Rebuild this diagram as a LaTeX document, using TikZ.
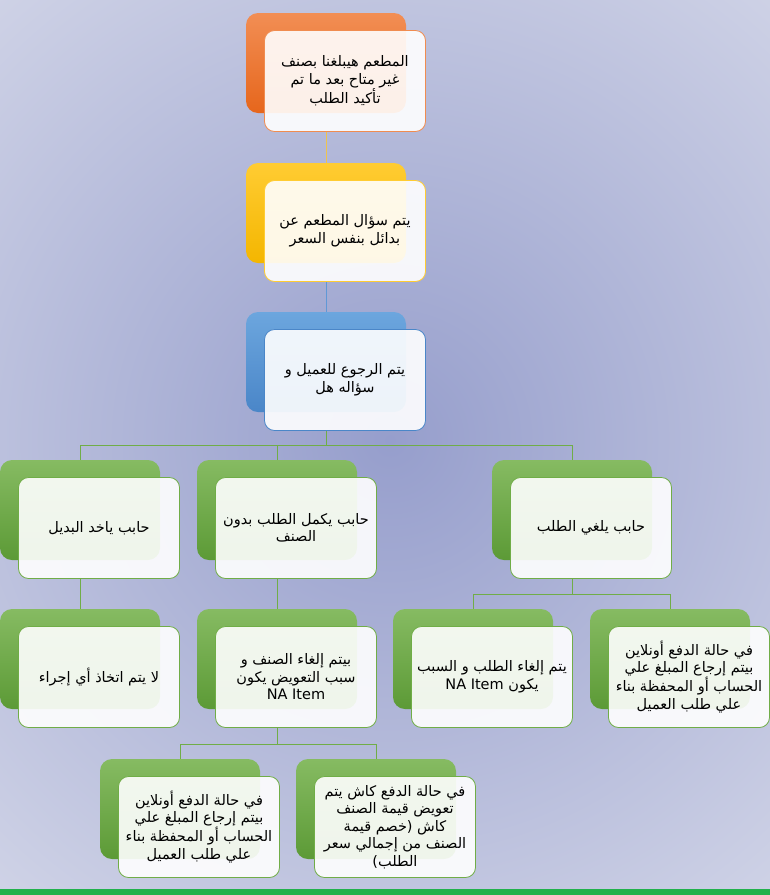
\documentclass[tikz,border=0pt]{standalone}
\usepackage{fontspec}
\usepackage{xcolor}
\newfontfamily\arabicfont[Script=Arabic]{DejaVu Sans}
\TeXXeTstate=1
\usetikzlibrary{positioning}

\definecolor{bgin}{RGB}{150,158,204}
\definecolor{bgout}{RGB}{228,230,240}
\definecolor{bandgreen}{RGB}{34,177,76}
\definecolor{orangetop}{RGB}{242,142,84}
\definecolor{orangebot}{RGB}{230,102,28}
\definecolor{orangeline}{RGB}{240,140,80}
\definecolor{goldtop}{RGB}{255,204,50}
\definecolor{goldbot}{RGB}{244,182,0}
\definecolor{goldline}{RGB}{238,196,80}
\definecolor{bluetop}{RGB}{108,166,222}
\definecolor{bluebot}{RGB}{74,134,200}
\definecolor{blueline}{RGB}{96,152,214}
\definecolor{greentop}{RGB}{134,187,98}
\definecolor{greenbot}{RGB}{92,154,54}
\definecolor{greenline}{RGB}{112,173,71}

\newcommand\rl[1]{\beginR #1\endR}

\pgfdeclarelayer{bg}
\pgfsetlayers{bg,main}

\begin{document}
\begin{tikzpicture}[x=1pt, y=-1pt,
    back/.style={rounded corners=12pt, minimum width=160pt,
        minimum height=100pt, inner sep=0pt},
    orangeback/.style={back, top color=orangetop, bottom color=orangebot},
    goldback/.style={back, top color=goldtop, bottom color=goldbot},
    blueback/.style={back, top color=bluetop, bottom color=bluebot},
    greenback/.style={back, top color=greentop, bottom color=greenbot},
    front/.style={draw, line width=0.8pt, rounded corners=10pt,
        fill=white, fill opacity=0.9, text opacity=1,
        minimum width=161pt, minimum height=101pt, inner sep=2pt,
        align=center, font=\arabicfont\fontsize{14.5}{17.5}\selectfont},
    link/.style={line width=0.8pt, draw=greenline},
]
    \useasboundingbox (0,0) rectangle (770,895);

    % Top chain
    \node[orangeback] (b1) at (326,63) {};
    \node[front, draw=orangeline] (t1) at ([shift={(19,18)}]b1.center)
        {\rl{المطعم هيبلغنا بصنف}\\ \rl{غير متاح بعد ما تم}\\ \rl{تأكيد الطلب}};
    \node[goldback] (b2) at (326,213) {};
    \node[front, draw=goldtop] (t2) at ([shift={(19,18)}]b2.center)
        {\rl{يتم سؤال المطعم عن}\\ \rl{بدائل بنفس السعر}};
    \node[blueback] (b3) at (326,362) {};
    \node[front, draw=bluebot] (t3) at ([shift={(19,18)}]b3.center)
        {\rl{يتم الرجوع للعميل و}\\ \rl{سؤاله هل}};

    % Answers
    \node[greenback] (bA) at (80,510) {};
    \node[front, draw=greenline] (tA) at ([shift={(19,18)}]bA.center)
        {\rl{حابب ياخد البديل}};
    \node[greenback] (bB) at (277,510) {};
    \node[front, draw=greenline] (tB) at ([shift={(19,18)}]bB.center)
        {\rl{حابب يكمل الطلب بدون}\\ \rl{الصنف}};
    \node[greenback] (bC) at (572,510) {};
    \node[front, draw=greenline] (tC) at ([shift={(19,18)}]bC.center)
        {\rl{حابب يلغي الطلب}};

    % Actions
    \node[greenback] (bAA) at (80,659) {};
    \node[front, draw=greenline] (tAA) at ([shift={(19,18)}]bAA.center)
        {\rl{لا يتم اتخاذ أي إجراء}};
    \node[greenback] (bBB) at (277,659) {};
    \node[front, draw=greenline] (tBB) at ([shift={(19,18)}]bBB.center)
        {\rl{بيتم إلغاء الصنف و}\\ \rl{سبب التعويض يكون}\\ NA Item};
    \node[greenback] (bD) at (473,659) {};
    \node[front, draw=greenline] (tD) at ([shift={(19,18)}]bD.center)
        {\rl{يتم إلغاء الطلب و السبب}\\ \rl{يكون \beginL NA Item\endL{}}};
    \node[greenback] (bE) at (670,659) {};
    \node[front, draw=greenline] (tE) at ([shift={(19,18)}]bE.center)
        {\rl{في حالة الدفع أونلاين}\\ \rl{بيتم إرجاع المبلغ علي}\\
         \rl{الحساب أو المحفظة بناء}\\ \rl{علي طلب العميل}};

    % Payment cases
    \node[greenback] (bF) at (180,809) {};
    \node[front, draw=greenline] (tF) at ([shift={(19,18)}]bF.center)
        {\rl{في حالة الدفع أونلاين}\\ \rl{بيتم إرجاع المبلغ علي}\\
         \rl{الحساب أو المحفظة بناء}\\ \rl{علي طلب العميل}};
    \node[greenback] (bG) at (376,809) {};
    \node[front, draw=greenline] (tG) at ([shift={(19,18)}]bG.center)
        {\rl{في حالة الدفع كاش يتم}\\ \rl{تعويض قيمة الصنف}\\
         \rl{كاش (خصم قيمة}\\ \rl{الصنف من إجمالي سعر}\\ \rl{الطلب)}};

    \begin{pgfonlayer}{bg}
        \clip (0,0) rectangle (770,895);
        \shade[inner color=bgin, outer color=bgout] (390,440) circle (820pt);
        \fill[bandgreen] (0,889) rectangle (770,895);

        % Connectors
        \draw[line width=0.8pt, draw=goldline] (t1.south -| b1) -- (b2.north);
        \draw[line width=0.8pt, draw=blueline] (t2.south -| b2) -- (b3.north);

        \coordinate (j3) at (326,445);
        \draw[link] (t3.south -| b3) -- (j3);
        \foreach \c in {bA,bB,bC} \draw[link] (j3) -| (\c.north);

        \draw[link] (tA.south -| bA) -- (bAA.north);
        \draw[link] (tB.south -| bB) -- (bBB.north);

        \coordinate (jC) at (572,594);
        \draw[link] (tC.south -| bC) -- (jC);
        \foreach \c in {bD,bE} \draw[link] (jC) -| (\c.north);

        \coordinate (jBB) at (277,744);
        \draw[link] (tBB.south -| bBB) -- (jBB);
        \foreach \c in {bF,bG} \draw[link] (jBB) -| (\c.north);
    \end{pgfonlayer}
\end{tikzpicture}
\end{document}
